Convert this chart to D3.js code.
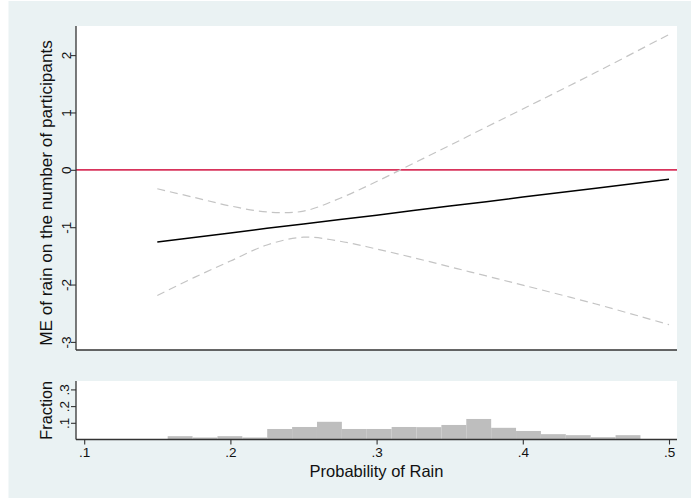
<!DOCTYPE html>
<html>
<head>
<meta charset="utf-8">
<script src="https://cdn.jsdelivr.net/npm/d3@7"></script>
<style>
  html, body { margin: 0; padding: 0; background: #ffffff; }
  svg { display: block; font-family: "Liberation Sans", Arial, sans-serif; }
  svg text { font-family: "Liberation Sans", Arial, sans-serif; }
</style>
</head>
<body>
<svg id="chart" width="691" height="504"></svg>
<script>
// ---- data ----
const probGrid   = [0.15, 0.175, 0.2, 0.225, 0.25, 0.275, 0.3, 0.325, 0.35, 0.375, 0.4, 0.45, 0.5];
const meValues   = [-1.26, -1.18, -1.10, -1.02, -0.945, -0.867, -0.79, -0.71, -0.63, -0.555, -0.475, -0.32, -0.165];
const upperCI    = [-0.33, -0.48, -0.63, -0.735, -0.72, -0.495, -0.205, 0.11, 0.425, 0.745, 1.06, 1.70, 2.36];
const lowerCI    = [-2.19, -1.88, -1.59, -1.31, -1.175, -1.245, -1.38, -1.53, -1.69, -1.85, -2.01, -2.34, -2.70];

const binStart   = 0.1571;
const binWidth   = 0.01702;
const fractions  = [0.020, 0.012, 0.020, 0.012, 0.063, 0.075, 0.106, 0.063, 0.063, 0.075,
                    0.074, 0.087, 0.123, 0.070, 0.051, 0.032, 0.026, 0.014, 0.026];

const xTicks     = [0.1, 0.2, 0.3, 0.4, 0.5];
const xTickLabels= [".1", ".2", ".3", ".4", ".5"];
const yTicks     = [-3, -2, -1, 0, 1, 2];
const yTickLabels= ["-3", "-2", "-1", "0", "1", "2"];
const hTicks     = [0.1, 0.2, 0.3];
const hTickLabels= [".1", ".2", ".3"];

const xTitle = "Probability of Rain";
const yTitle = "ME of rain on the number of participants";
const hTitle = "Fraction";

// ---- layout ----
const svg = d3.select("#chart");
const plotL = 76, plotR = 677;
const topT = 26, topB = 350;
const histT = 381, histB = 439.5;
const FONT = "Liberation Sans, Arial, sans-serif";

const x = d3.scaleLinear().domain([0.1, 0.5]).range([84.2, 669]);
const y = d3.scaleLinear().domain([-3, 2]).range([341.9, 55.1]);
const yh = d3.scaleLinear().domain([0, 0.3]).range([histB, 389.4]);

// background
svg.append("rect").attr("x", 8.5).attr("y", 1).attr("width", 682.5).attr("height", 497)
  .attr("fill", "#eaf2f3");

// plot areas
svg.append("rect").attr("x", plotL).attr("y", topT).attr("width", plotR - plotL).attr("height", topB - topT)
  .attr("fill", "#ffffff");
svg.append("rect").attr("x", plotL).attr("y", histT).attr("width", plotR - plotL).attr("height", histB - histT)
  .attr("fill", "#ffffff");

// ---- top panel ----
svg.append("line").attr("x1", plotL).attr("x2", plotR).attr("y1", y(0)).attr("y2", y(0))
  .attr("stroke", "#d8345c").attr("stroke-width", 1.7);

const pts = (vals) => probGrid.map((p, i) => [p, vals[i]]);
const line = d3.line().x(d => x(d[0])).y(d => y(d[1])).curve(d3.curveCatmullRom.alpha(0.5));

svg.append("path").attr("d", line(pts(upperCI))).attr("fill", "none")
  .attr("stroke", "#c4c4c4").attr("stroke-width", 1.2).attr("stroke-dasharray", "8,5");
svg.append("path").attr("d", line(pts(lowerCI))).attr("fill", "none")
  .attr("stroke", "#c4c4c4").attr("stroke-width", 1.2).attr("stroke-dasharray", "8,5");
svg.append("path").attr("d", d3.line().x(d => x(d[0])).y(d => y(d[1]))(pts(meValues))).attr("fill", "none")
  .attr("stroke", "#000000").attr("stroke-width", 1.5);

// left axis (top)
const yAxis = d3.axisLeft(y).tickValues(yTicks).tickSize(5).tickFormat((d, i) => yTickLabels[i]);
const gy = svg.append("g").attr("transform", `translate(${plotL},0)`).call(yAxis)
  .attr("font-family", FONT);
gy.select(".domain").attr("d", `M0,${topT}V${topB}`).attr("stroke", "#333").attr("stroke-width", 1.3);
gy.selectAll(".tick line").attr("stroke", "#333").attr("stroke-width", 1.1);
gy.selectAll(".tick text")
  .attr("x", null).attr("dy", null)
  .attr("transform", "translate(-5.5,0) rotate(-90)")
  .attr("text-anchor", "middle")
  .attr("font-size", "13.5px").attr("fill", "#111");

svg.append("line").attr("x1", plotL).attr("x2", plotR).attr("y1", topB).attr("y2", topB)
  .attr("stroke", "#333").attr("stroke-width", 1.3);

svg.append("text").attr("transform", `translate(52,${(topT + topB) / 2 + 5}) rotate(-90)`)
  .attr("text-anchor", "middle").attr("font-size", "17.2px").attr("fill", "#111").text(yTitle);

// ---- histogram panel ----
svg.append("g").selectAll("rect").data(fractions).join("rect")
  .attr("x", (d, i) => x(binStart + i * binWidth))
  .attr("width", (d, i) => x(binStart + (i + 1) * binWidth) - x(binStart + i * binWidth))
  .attr("y", d => yh(d))
  .attr("height", d => histB - yh(d))
  .attr("fill", "#bebebe");

const hAxis = d3.axisLeft(yh).tickValues(hTicks).tickSize(5).tickFormat((d, i) => hTickLabels[i]);
const gh = svg.append("g").attr("transform", `translate(${plotL},0)`).call(hAxis)
  .attr("font-family", FONT);
gh.select(".domain").attr("d", `M0,${histT}V${histB}`).attr("stroke", "#333").attr("stroke-width", 1.3);
gh.selectAll(".tick line").attr("stroke", "#333").attr("stroke-width", 1.1);
gh.selectAll(".tick text")
  .attr("x", null).attr("dy", null)
  .attr("transform", "translate(-7,0) rotate(-90)")
  .attr("text-anchor", "middle")
  .attr("font-size", "13.5px").attr("fill", "#111");

const xAxis = d3.axisBottom(x).tickValues(xTicks).tickSize(5).tickFormat((d, i) => xTickLabels[i]);
const gx = svg.append("g").attr("transform", `translate(0,${histB})`).call(xAxis)
  .attr("font-family", FONT);
gx.select(".domain").attr("d", `M${plotL},0H${plotR}`).attr("stroke", "#333").attr("stroke-width", 1.3);
gx.selectAll(".tick line").attr("stroke", "#333").attr("stroke-width", 1.1);
gx.selectAll(".tick text").attr("y", 8).attr("dy", "0.71em")
  .attr("font-size", "13.5px").attr("fill", "#111");

svg.append("text").attr("x", (plotL + plotR) / 2).attr("y", 477)
  .attr("text-anchor", "middle").attr("font-size", "16.5px").attr("fill", "#111").text(xTitle);

svg.append("text").attr("transform", `translate(52,${(histT + histB) / 2}) rotate(-90)`)
  .attr("text-anchor", "middle").attr("font-size", "16.3px").attr("fill", "#111").text(hTitle);
</script>
</body>
</html>
